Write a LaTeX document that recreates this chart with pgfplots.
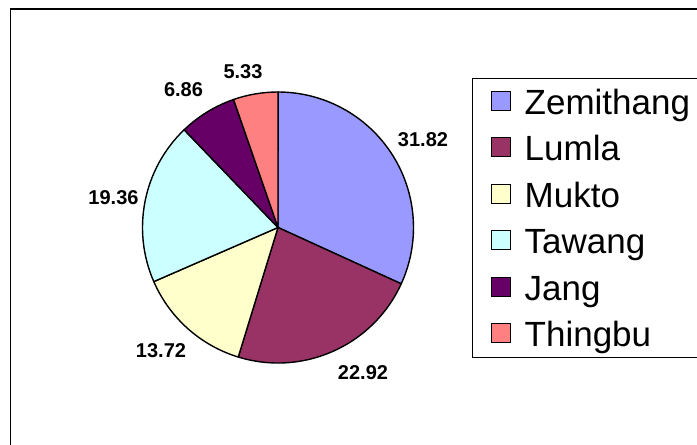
\documentclass[border=0pt]{standalone}
\usepackage{fontspec}
\setmainfont{Liberation Sans}
\usepackage{pgfplots}
\usepackage{pgfplotstable}
\pgfplotsset{compat=1.18}

\definecolor{zem}{HTML}{9999FF}
\definecolor{lum}{HTML}{993366}
\definecolor{muk}{HTML}{FFFFCC}
\definecolor{taw}{HTML}{CCFFFF}
\definecolor{jan}{HTML}{660066}
\definecolor{thi}{HTML}{FF8080}

% share of each block, slice colour, label centre (px of the 697x445 frame)
\pgfplotstableread{
name      value col lx    ly
Zemithang 31.82 zem 423   305
Lumla     22.92 lum 363   72.5
Mukto     13.72 muk 161   94.5
Tawang    19.36 taw 113.5 247.5
Jang      6.86  jan 183.5 355
Thingbu   5.33  thi 243   373.5
}\piedata

\begin{document}
\begin{tikzpicture}
\useasboundingbox (0pt,0pt) rectangle (697pt,445pt);
\begin{axis}[
  hide axis, scale only axis,
  x=1pt, y=1pt,
  xmin=0, xmax=697, ymin=0, ymax=445,
  clip=false,
  legend cell align=left,
  legend image code/.code={\draw[#1,draw=black,line width=1pt] (0pt,-8.5pt) rectangle (19pt,10.5pt);},
  legend style={at={(axis cs:472,366.7)}, anchor=north west,
    draw=black, line width=1pt,
    inner xsep=18.2pt, inner ysep=4pt,
    column sep=14pt, row sep=8pt,
    font=\fontsize{35}{40}\selectfont,
    nodes={inner sep=0pt, text height=31.7pt, text depth=6.7pt}},
]
% chart area frame (right and bottom edges fall outside the picture)
\draw[black, line width=1.3pt] (axis cs:10.5,-20) -- (axis cs:10.5,436) -- (axis cs:720,436);

\addlegendimage{fill=zem}\addlegendentry{Zemithang}
\addlegendimage{fill=lum}\addlegendentry{Lumla}
\addlegendimage{fill=muk}\addlegendentry{Mukto}
\addlegendimage{fill=taw}\addlegendentry{Tawang}
\addlegendimage{fill=jan}\addlegendentry{Jang}
\addlegendimage{fill=thi}\addlegendentry{Thingbu}

\pgfplotsextra{
  \gdef\startang{90}
  \pgfplotstablegetrowsof{\piedata}
  \pgfmathtruncatemacro\lastrow{\pgfplotsretval-1}
  \foreach \i in {0,...,\lastrow}{
    \pgfplotstablegetelem{\i}{value}\of\piedata \let\val\pgfplotsretval
    \pgfplotstablegetelem{\i}{col}\of\piedata \let\slicecol\pgfplotsretval
    \pgfmathsetmacro\endang{\startang-3.6*\val}
    \filldraw[fill=\slicecol, draw=black, line width=1.4pt, line join=round]
      (axis cs:278,217.5) -- ++(\startang:135.5pt)
      arc[start angle=\startang, end angle=\endang, radius=135.5pt] -- cycle;
    \pgfplotstablegetelem{\i}{lx}\of\piedata \let\lx\pgfplotsretval
    \pgfplotstablegetelem{\i}{ly}\of\piedata \let\ly\pgfplotsretval
    \node[font=\fontsize{20}{23}\selectfont\bfseries] at (axis cs:\lx,\ly) {\val};
    \global\let\startang\endang
  }
}
\end{axis}
\end{tikzpicture}
\end{document}
